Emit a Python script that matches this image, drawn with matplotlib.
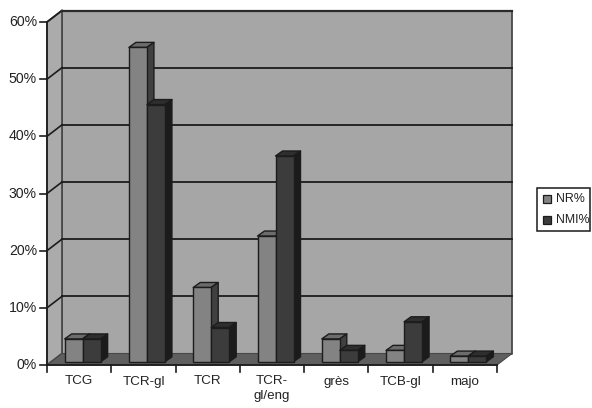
import matplotlib
matplotlib.use("Agg")
import matplotlib.pyplot as plt
from matplotlib.lines import Line2D
from matplotlib.patches import Polygon, Rectangle

plt.rcParams["font.family"] = ["Liberation Sans", "DejaVu Sans"]

categories = ["TCG", "TCR-gl", "TCR", "TCR-\ngl/eng", "grès", "TCB-gl", "majo"]
nr = [4, 55, 13, 22, 4, 2, 1]
nmi = [4, 45, 6, 36, 2, 7, 1]
y_ticks = [0, 10, 20, 30, 40, 50, 60]
y_labels = ["0%", "10%", "20%", "30%", "40%", "50%", "60%"]
series_names = ["NR%", "NMI%"]

W, H = 592, 408
LEFT, RIGHT, BOTTOM, TOP = 47, 497, 365, 22
EDGE = "#1c1c1c"

fig = plt.figure(figsize=(W / 100, H / 100), dpi=100)
ax = fig.add_axes([LEFT / W, 1 - BOTTOM / H, (RIGHT - LEFT) / W, (BOTTOM - TOP) / H])
ax.set_xlim(0, len(categories))
ax.set_ylim(0, 60)
ax.axis("off")

# 3d offsets in data units
px_x = len(categories) / (RIGHT - LEFT)
px_y = 60 / (BOTTOM - TOP)
depth_x = 15 * px_x
depth_y = 11.5 * px_y
n = len(categories)


def add_poly(points, color, lw=1.0, edge=EDGE, z=1):
    ax.add_patch(Polygon(points, closed=True, facecolor=color, edgecolor=edge,
                         linewidth=lw, zorder=z, clip_on=False, joinstyle="round"))


# walls and floor
add_poly([(depth_x, depth_y), (n + depth_x, depth_y), (n + depth_x, 60 + depth_y), (depth_x, 60 + depth_y)],
         "#a6a6a6", lw=1.3, edge="#4a4a4a")
add_poly([(0, 0), (depth_x, depth_y), (depth_x, 60 + depth_y), (0, 60)], "#ababab", lw=1.3, edge="#4a4a4a")
add_poly([(0, 0), (n, 0), (n + depth_x, depth_y), (depth_x, depth_y)], "#5f5f5f", lw=0.8, edge="#484848")

for tick in y_ticks[1:-1]:
    ax.plot([depth_x, n + depth_x], [tick + depth_y] * 2, color="#1c1c1c", lw=1.3, zorder=2, clip_on=False)
for tick in y_ticks[1:]:
    ax.plot([0, depth_x], [tick, tick + depth_y], color="#1c1c1c", lw=1.2, zorder=2, clip_on=False)
ax.plot([depth_x, n + depth_x], [60 + depth_y] * 2, color="#2a2a2a", lw=1.6, zorder=2, clip_on=False)

# axis lines, ticks, labels
ax.plot([0, 0], [0, 60], color="#1c1c1c", lw=1.2, zorder=3, clip_on=False)
ax.plot([0, n], [0, 0], color="#1c1c1c", lw=1.3, zorder=3, clip_on=False)
for tick, label in zip(y_ticks, y_labels):
    ax.plot([-7 * px_x, 0], [tick, tick], color="#1c1c1c", lw=1.2, zorder=3, clip_on=False)
    ax.text(-10 * px_x, tick, label, ha="right", va="center", fontsize=10.2, color="#222222")
for i in range(n + 1):
    ax.plot([i, i], [0, -7 * px_y], color="#1c1c1c", lw=1.2, zorder=3, clip_on=False)
for i, label in enumerate(categories):
    ax.text(i + 0.5, -10.5 * px_y, label, ha="center", va="top", fontsize=9.6,
            color="#222222", linespacing=1.3)

# bars
bar_w = 18 * px_x
bar_dx = 7 * px_x
bar_dy = 5 * px_y
base_x = 3.5 * px_x
base_y = 3.2 * px_y
styles = [("#838383", "#6c6c6c", "#404040"), ("#3c3c3c", "#2e2e2e", "#1b1b1b")]
z = 5
for i in range(n):
    x0 = i + 0.5 + base_x - bar_w
    for k, values in enumerate((nr, nmi)):
        front, top, side = styles[k]
        x = x0 + k * bar_w
        v = values[i] + base_y
        add_poly([(x, v), (x + bar_w, v), (x + bar_w + bar_dx, v + bar_dy), (x + bar_dx, v + bar_dy)], top, z=z)
        add_poly([(x + bar_w, base_y), (x + bar_w + bar_dx, base_y + bar_dy),
                  (x + bar_w + bar_dx, v + bar_dy), (x + bar_w, v)], side, z=z)
        ax.bar(x, values[i], bar_w, bottom=base_y, align="edge", color=front,
               edgecolor=EDGE, linewidth=1.0, zorder=z + 0.5, clip_on=False)
        z += 1

# legend
fig.add_artist(Rectangle((537 / W, 1 - 231 / H), 53 / W, 43 / H, transform=fig.transFigure,
                         facecolor="white", edgecolor="#1a1a1a", linewidth=1.1))
for name, y_px, style in zip(series_names, (199, 220), styles):
    fig.add_artist(Line2D([546.5 / W], [1 - y_px / H], marker="s", markersize=6.2, linestyle="none",
                          markerfacecolor=style[0], markeredgecolor=EDGE, markeredgewidth=0.9,
                          transform=fig.transFigure))
    fig.text(556 / W, 1 - y_px / H, name, ha="left", va="center", fontsize=8.9, color="#222222")

fig.savefig("out.png", dpi=100)
